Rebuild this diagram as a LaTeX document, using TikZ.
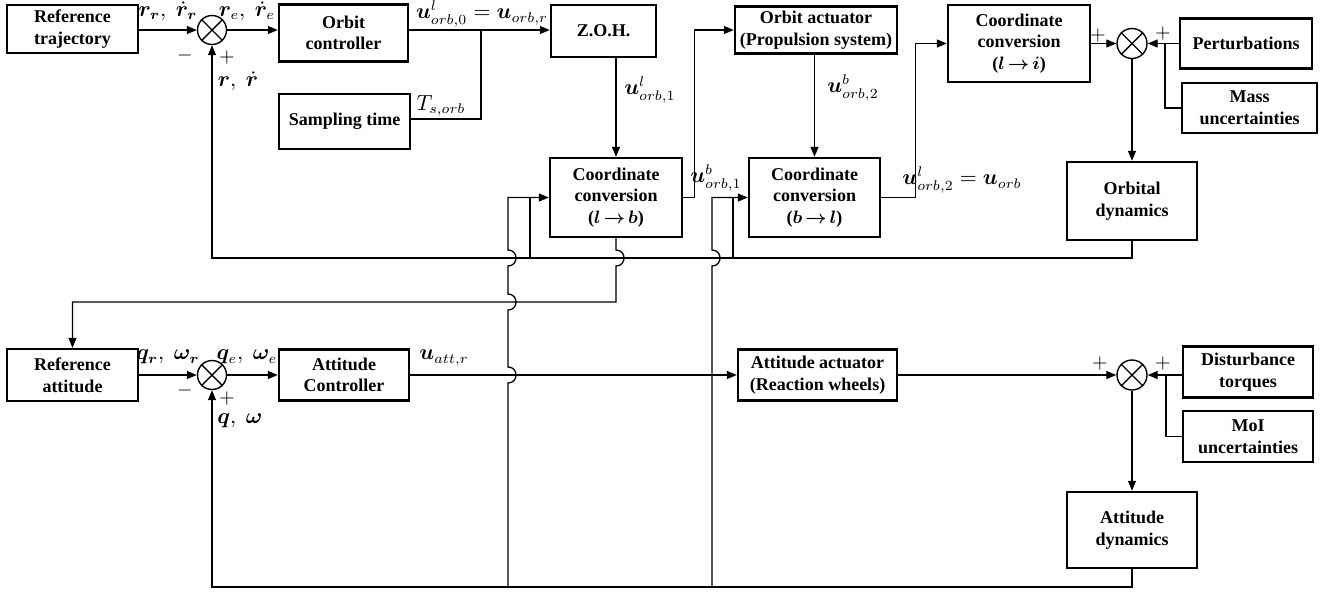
\documentclass[tikz,border=0pt]{standalone}
\usepackage{amsmath}
\usepackage{fontspec}
\setmainfont{Liberation Serif}
\usepackage{bm}
\usetikzlibrary{arrows.meta}
\newcommand{\convarrow}{\,{\bm{\rightarrow}}\,}
\begin{document}
\begin{tikzpicture}[x=0.5pt,y=-0.5pt,
  box/.style={draw,line width=1.2pt,align=center,inner sep=1pt,font=\fontsize{9}{10.8}\selectfont\bfseries},
  sumj/.style={draw,circle,line width=0.7pt,minimum size=14.5pt,inner sep=0pt},
  conn/.style={line width=0.65pt},
  arr/.style={conn,-{Triangle[length=5pt,width=4pt]}},
  lbl/.style={font=\fontsize{10.7}{13}\selectfont,inner sep=0pt},
  sgn/.style={font=\fontsize{10}{12}\selectfont,inner sep=0pt}]
\useasboundingbox (0,0) rectangle (1327,591);

% ---------- orbit loop boxes ----------
\node[box,minimum width=65.5pt,minimum height=24pt] (reftraj) at (72.5,29) {Reference\\trajectory};
\node[sumj] (s1) at (212,30) {};
\node[box,minimum width=64.5pt,minimum height=28.5pt] (orbctrl) at (343.5,33) {Orbit\\controller};
\node[box,minimum width=52.5pt,minimum height=26pt] (zoh) at (603.5,31) {Z.O.H.};
\node[box,minimum width=65.5pt,minimum height=27.5pt] (samp) at (344.5,121.5) {Sampling time};
\node[box,minimum width=81pt,minimum height=23.5pt] (orbact) at (816,30) {Orbit actuator\\(Propulsion system)};
\node[box,minimum width=71pt,minimum height=38.5pt] (ccli) at (1019,43.5) {Coordinate\\conversion\\($\bm{l}\convarrow\bm{i}$)};
\node[sumj,minimum size=15pt] (so) at (1132,43.5) {};
\node[box,minimum width=66pt,minimum height=25pt] (pert) at (1246,43.5) {Perturbations};
\node[box,minimum width=67.5pt,minimum height=25pt] (mass) at (1249.5,108) {Mass\\uncertainties};
\node[box,minimum width=65pt,minimum height=39pt] (orbdyn) at (1132,201) {Orbital\\dynamics};
\node[box,minimum width=66pt,minimum height=39.5pt] (cclb) at (616,197.5) {Coordinate\\conversion\\($\bm{l}\convarrow\bm{b}$)};
\node[box,minimum width=65.5pt,minimum height=39.5pt] (ccbl) at (814.5,197.5) {Coordinate\\conversion\\($\bm{b}\convarrow\bm{l}$)};

% ---------- attitude loop boxes ----------
\node[box,minimum width=65.5pt,minimum height=26pt] (refatt) at (72.5,375) {Reference\\attitude};
\node[sumj] (s2) at (212,375) {};
\node[box,minimum width=65pt,minimum height=25.5pt] (attctrl) at (344,375) {Attitude\\Controller};
\node[box,minimum width=79.5pt,minimum height=25.5pt] (attact) at (817.5,375) {Attitude actuator\\(Reaction wheels)};
\node[sumj,minimum size=15pt] (s3) at (1132,375) {};
\node[box,minimum width=65pt,minimum height=25.5pt] (dist) at (1248,372) {Disturbance\\torques};
\node[box,minimum width=65pt,minimum height=25.5pt] (moi) at (1248,436.5) {MoI\\uncertainties};
\node[box,minimum width=65pt,minimum height=38pt] (attdyn) at (1132,530) {Attitude\\dynamics};

% crosses in summing junctions
\foreach \s in {s1,so,s2,s3}{
  \draw[line width=0.7pt] (\s.north west) -- (\s.south east) (\s.north east) -- (\s.south west);
}

% ---------- orbit loop connectors ----------
\coordinate (jT) at (481,30);
\coordinate (jM) at (1165,43.5);
\draw[arr] (reftraj.east |- s1) -- (s1.west);
\draw[arr] (s1.east) -- (s1 -| orbctrl.west);
\draw[arr] (orbctrl.east |- s1) -- (s1 -| zoh.west);
\draw[conn] (samp.east |- 0,119) -| (jT);
\draw[arr] (zoh.south -| cclb) -- (cclb.north);
\draw[arr] (cclb.east) -- ++(11,0) |- (orbact.west);
\draw[arr] (orbact.south -| ccbl) -- (ccbl.north);
\draw[arr] (ccbl.east) -- ++(34,0) |- (ccli.west);
\draw[arr] (ccli.east |- so) -- (so.west);
\draw[arr] (pert.west) -- (so.east);
\draw[conn] (mass.west) -| (jM);
\draw[arr] (so.south) -- (orbdyn.north);
\draw[arr] (orbdyn.south) -- (1132,258) -| (s1.south);
\draw[conn] (530,258) -- (530,197.5);
\draw[conn] (733,258) -- (733,197.5);

% l->b to reference attitude
\draw[arr] (cclb.south) -- (616,250) .. controls (626.7,250) and (626.7,266) .. (616,266) -- (616,302) -| (refatt.north);

% ---------- attitude loop connectors ----------
\coordinate (jD) at (1166,375);
\draw[arr] (refatt.east) -- (s2.west);
\draw[arr] (s2.east) -- (attctrl.west);
\draw[arr] (attctrl.east) -- (attact.west);
\draw[arr] (attact.east) -- (s3.west);
\draw[arr] (dist.west |- s3) -- (s3.east);
\draw[conn] (moi.west) -| (jD);
\draw[arr] (s3.south) -- (attdyn.north);
\draw[arr] (attdyn.south) -- (1132,587) -| (s2.south);

% attitude feedback to coordinate conversions (with line hops)
\draw[arr] (508,587) -- (508,383) .. controls (518.7,383) and (518.7,367) .. (508,367)
  -- (508,310) .. controls (518.7,310) and (518.7,294) .. (508,294)
  -- (508,266) .. controls (518.7,266) and (518.7,250) .. (508,250)
  -- (508,197.5) -- (cclb.west);
\draw[arr] (712,587) -- (712,266) .. controls (722.7,266) and (722.7,250) .. (712,250)
  -- (712,197.5) -- (ccbl.west);

% ---------- labels ----------
\node[lbl] (L1) at (168,11) {$\bm{r}_{\bm{r}},\;\dot{\bm{r}}_{\bm{r}}$};
\node[lbl] (L2) at (247,11) {$\bm{r}_{e},\;\dot{\bm{r}}_{e}$};
\node[sgn] (L3) at (185,55) {$-$};
\node[sgn] (L4) at (227,57) {$+$};
\node[lbl] (L5) at (238,81) {$\bm{r},\;\dot{\bm{r}}$};
\node[lbl] (L6) at (482,14) {$\bm{u}^{l}_{orb,0}=\bm{u}_{orb,r}$};
\node[lbl] (L7) at (441,106) {$T_{s,orb}$};
\node[lbl] (L8) at (650,90) {$\bm{u}^{l}_{orb,1}$};
\node[lbl] (L9) at (853,88) {$\bm{u}^{b}_{orb,2}$};
\node[lbl] (L10) at (716,178) {$\bm{u}^{b}_{orb,1}$};
\node[lbl] (L11) at (962,180) {$\bm{u}^{l}_{orb,2}=\bm{u}_{orb}$};
\node[sgn] (L12) at (1098,35) {$+$};
\node[sgn] (L13) at (1163,33) {$+$};
\node[lbl] (L14) at (168,357) {$\bm{q}_{\bm{r}},\;\bm{\omega}_{\bm{r}}$};
\node[lbl] (L15) at (247,357) {$\bm{q}_{e},\;\bm{\omega}_{e}$};
\node[sgn] (L16) at (185,390) {$-$};
\node[sgn] (L17) at (227,398) {$+$};
\node[lbl] (L18) at (240,421) {$\bm{q},\;\bm{\omega}$};
\node[lbl] (L19) at (444,358) {$\bm{u}_{att,r}$};
\node[sgn] (L20) at (1100,363) {$+$};
\node[sgn] (L21) at (1163,363) {$+$};
\end{tikzpicture}
\end{document}
